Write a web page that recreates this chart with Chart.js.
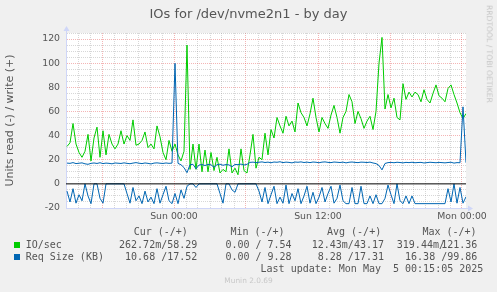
<!DOCTYPE html>
<html><head><meta charset="utf-8">
<script src="https://cdn.jsdelivr.net/npm/chart.js@4.4.1/dist/chart.umd.min.js"></script>
<style>
html,body{margin:0;padding:0;background:#f0f0f0;width:497px;height:292px;overflow:hidden}
#wrap{position:relative;width:497px;height:292px}
canvas{position:absolute;left:0;top:0}
.t{position:absolute;white-space:pre;font-family:"DejaVu Sans";color:#666;line-height:1}
.m{position:absolute;white-space:pre;font-family:"DejaVu Sans Mono";font-size:10px;color:#555;line-height:1}
.r{text-align:right}
.sq{position:absolute;width:6px;height:6px}
</style></head>
<body><div id="wrap">
<canvas id="c" width="497" height="292"></canvas>
<div class="t" style="left:0;top:7.3px;width:497px;text-align:center;font-size:13px;color:#555">IOs for /dev/nvme2n1 - by day</div>
<div class="t" style="left:489px;top:54px;font-size:7.6px;color:#c4c4c4;transform:translate(-50%,-50%) rotate(90deg)">RRDTOOL / TOBI OETIKER</div>
<div id="legend"></div>
<div class="t" style="left:0;top:277.4px;width:497px;text-align:center;font-size:7.4px;color:#c8c8c8">Munin 2.0.69</div>
</div>
<script>
// ---- data (5-minute RRD samples, read every 15 minutes) ----
const hourTicks = [24, 36, 48];
const hourLabels = ['Sun 00:00', 'Sun 12:00', 'Mon 00:00'];
const xMinHour = 15, xMaxHour = 48 + 1/3;
const firstSampleHour = 15 + 1/12;
const sampleStepHours = 0.25;

const ioWrite = [
 31,34,50,33,26,22,27,41,19,38,
 47,22,44,24,41,33,29,33,44,33,
 40,36,53,32,33,36,43,30,33,29,
 48,39,26,20,36,27,33,24,19,27,
 115,12,33,12,33,10,28,10,26,11,
 22,9,12,10,29,9,13,7.54,29,11,
 9,24,41,13,22,20,42,24,45,38,
 55,48,42,56,48,52,43,67,59,55,
 48,58,71,55,43,55,50,46,57,65,
 55,42,55,60,74,68,50,60,54,46,
 52,56,45,60,100,121.36,62,74,63,71,
 55,53,83,70,76,72,76,74,68,78,
 70,67,75,82,73,71,68,79,82,74,
 67,59,54,58.29];

const reqWrite = [
 17.2,17.0,17.6,16.8,17.1,17.4,16.6,16.2,17.0,17.3,16.9,17.5,16.8,17.2,17.0,16.6,17.3,17.1,
 16.9,17.4,17.0,16.7,17.2,17.6,17.1,16.8,17.3,17.0,16.5,17.2,17.4,17.1,16.9,17.3,17.0,17.2,
 99.86,
 17.0,15.8,13.5,9.28,15.9,16.2,12.5,15.6,16.0,15.2,16.1,15.8,13.8,15.9,16.3,15.4,16.0,15.7,
 14.2,16.1,15.9,16.4,15.6,16.2,
 17.8,18.0,17.6,17.9,18.2,17.7,18.0,17.5,18.1,17.9,18.3,17.6,18.0,17.8,17.4,18.1,17.9,18.2,
 17.7,18.0,17.6,18.1,17.9,17.5,18.0,18.2,17.8,17.6,18.1,17.9,17.7,18.0,17.4,17.9,18.1,17.8,
 17.6,18.0,17.9,17.7,18.0,17.3,16.8,
 15.2,11.6,16.9,
 17.6,17.8,17.5,17.9,17.7,17.4,17.8,17.6,17.9,17.5,17.7,17.8,17.3,17.6,17.9,17.7,17.5,17.8,
 17.6,17.4,17.7,17.9,17.2,17.6,17.5,
 63.8,17.52];

const reqRead = [
 -6,-15,-4,-16,-9,-14,0,-10,-16.4,0,
 0,-12,-16,0,0,0,0,0,0,0,
 -8,-16,-3,-14,-10,-16.4,-6,-15,-11,-16.4,
 -4,-16,-9,-2,-14,-16.4,-8,-16.4,-5,-12,
 -2,0,0,-3,0,0,0,0,0,0,
 0,-8,-16,0,0,-5,-7,0,0,0,
 0,0,0,0,-6,-15,-3,-16.4,-9,-2,
 -16.4,-11,-16,-1,-16.4,-8,-14,-4,-16.4,-10,
 -2,-16,-7,-16.4,-11,-3,-15,-8,-2,-16,
 -12,-1,-14,-16.4,-16.4,-3,-16.4,-16.4,-2,-16.4,
 -16.4,-10,-16.4,-9,-16.4,-16.4,-12,-1,-9,-16.4,
 0,-14,-16.4,-10,-16.4,-10,-16.4,-16.4,-16.4,-16.4,
 -16.4,-16.4,-16.4,-16.4,-16.4,-16.4,-16.4,-4,-15,0,
 -16,-3,-16,-10.68];

const zeroRule = [0, 0];

const legendHeader = ['Cur (-/+)', 'Min (-/+)', 'Avg (-/+)', 'Max (-/+)'];
const legendRows = [
 {name:'IO/sec', color:'#00CC00', vals:['262.72m/58.29','0.00 / 7.54','12.43m/43.17',['319.44m/','121.36']]},
 {name:'Req Size (KB)', color:'#0066B3', vals:['10.68 /17.52','0.00 / 9.28','8.28 /17.31','16.38 /99.86']}
];
const lastUpdate = 'Last update: Mon May  5 00:15:05 2025';

// ---- legend (HTML text) ----
(function(){
  const L = document.getElementById('legend');
  const colRight = [197.3, 291.6, 384, 477.3];
  const headLeft = [133.7, 230.4, 327, 422.4];
  const add = (cls, txt, style) => { const d = document.createElement('div'); d.className = cls; d.textContent = txt; d.setAttribute('style', style); L.appendChild(d); };
  legendHeader.forEach((h,i)=> add('m', h, `left:${headLeft[i]}px;top:227.2px`));
  const rowTop = [239.5, 251.7];
  const sqTop = [242, 254];
  legendRows.forEach((r,ri)=>{
    const s = document.createElement('div'); s.className='sq'; s.setAttribute('style',`left:14px;top:${sqTop[ri]}px;background:${r.color}`); L.appendChild(s);
    add('m', r.name, `left:25.7px;top:${rowTop[ri]}px`);
    r.vals.forEach((v,ci)=>{
      if (Array.isArray(v)) {
        add('m', v[0], `left:396.8px;top:${rowTop[ri]}px`);
        add('m r', v[1], `right:${497-colRight[ci]}px;top:${rowTop[ri]}px`);
      } else add('m r', v, `right:${497-colRight[ci]}px;top:${rowTop[ri]}px`);
    });
  });
  add('m r', lastUpdate, `right:${497-483.3}px;top:264px`);
})();

// ---- chart ----
const pts = arr => arr.map((v,i)=>({x: firstSampleHour + i*sampleStepHours, y: v}));
const AXIS = '#CFD6F8';
const MAJOR = 'rgba(230,90,90,0.45)';
const MINOR = 'rgba(140,140,140,0.35)';

const decor = {
  id:'decor',
  beforeDraw(c){ const {ctx, chartArea:a} = c; ctx.save(); ctx.fillStyle='#ffffff'; ctx.fillRect(a.left,a.top,a.right-a.left,a.bottom-a.top); ctx.restore(); },
  afterDraw(c){
    const {ctx, chartArea:a} = c; ctx.save();
    ctx.strokeStyle = AXIS; ctx.fillStyle = AXIS; ctx.lineWidth = 1;
    const lx = Math.round(a.left)+0.5, by = Math.round(a.bottom)+0.5;
    ctx.beginPath(); ctx.moveTo(lx, a.top); ctx.lineTo(lx, a.top-5); ctx.stroke();
    ctx.beginPath(); ctx.moveTo(lx-3, a.top-2); ctx.lineTo(lx, a.top-7); ctx.lineTo(lx+3, a.top-2); ctx.closePath(); ctx.fill();
    ctx.beginPath(); ctx.moveTo(a.right, by); ctx.lineTo(a.right+5, by); ctx.stroke();
    ctx.beginPath(); ctx.moveTo(a.right+2, by-3); ctx.lineTo(a.right+7, by); ctx.lineTo(a.right+2, by+3); ctx.closePath(); ctx.fill();
    ctx.restore();
  }
};

new Chart(document.getElementById('c'), {
  type:'line',
  data:{datasets:[
    {label:'zero', data:[{x:xMinHour,y:zeroRule[0]},{x:xMaxHour,y:zeroRule[1]}], borderColor:'#000000', order:-1},
    {label:'Req Size (KB) write', data:pts(reqWrite), borderColor:'#0066B3', order:0},
    {label:'Req Size (KB) read', data:pts(reqRead), borderColor:'#0066B3', order:0},
    {label:'IO/sec write', data:pts(ioWrite), borderColor:'#00CC00', order:1}
  ]},
  options:{
    responsive:false, animation:false, devicePixelRatio:1,
    elements:{point:{radius:0}, line:{borderWidth:1, tension:0, fill:false, borderJoinStyle:'miter'}},
    plugins:{legend:{display:false}, tooltip:{enabled:false}, title:{display:false}},
    layout:{padding:{top:33, right:31, bottom:64, left:0}},
    scales:{
      x:{
        type:'linear', min:xMinHour, max:xMaxHour,
        afterFit(s){ s.height = 20; },
        afterBuildTicks(s){ const t=[]; for(let h=15; h<=48; h++) t.push({value:h}); s.ticks = t; },
        ticks:{autoSkip:false, maxRotation:0, minRotation:0, padding:3, color:'#555',
          font:{family:'DejaVu Sans', size:9.33},
          callback(v){ const k = hourTicks.indexOf(v); return k>=0 ? hourLabels[k] : ''; }},
        grid:{drawTicks:false, lineWidth:1, color(ctx){ const v = ctx.tick ? ctx.tick.value : 0; return v%6===0 ? MAJOR : MINOR; }},
        border:{color:AXIS, width:1, dash:[1,1]}
      },
      y:{
        min:-20, max:125,
        afterFit(s){ s.width = 66; },
        afterBuildTicks(s){ const t=[]; for(let v=-20; v<=125; v+=5) t.push({value:v}); s.ticks = t; },
        ticks:{autoSkip:false, padding:6, color:'#555', font:{family:'DejaVu Sans', size:9.33},
          callback(v){ return v%20===0 ? String(v) : ''; }},
        grid:{drawTicks:false, lineWidth:1, color(ctx){ const v = ctx.tick ? ctx.tick.value : 1; if (v===0) return 'rgba(0,0,0,0)'; return v%20===0 ? MAJOR : MINOR; }},
        border:{color:AXIS, width:1, dash:[1,1]},
        title:{display:true, text:'Units read (-) / write (+)', color:'#555', font:{family:'DejaVu Sans', size:11}, padding:{top:4, bottom:4}}
      }
    }
  },
  plugins:[decor]
});
</script>
</body></html>
